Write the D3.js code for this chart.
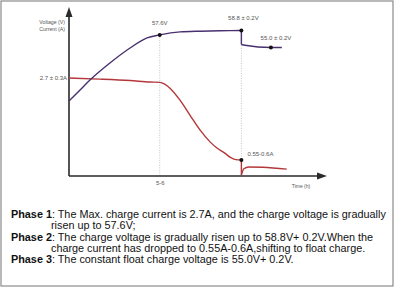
<!DOCTYPE html>
<html>
<head>
<meta charset="utf-8">
<script src="https://cdn.jsdelivr.net/npm/d3@7"></script>
<style>
  body { margin: 0; background: #fff; }
  svg { display: block; font-family: "Liberation Sans", Arial, sans-serif; }
</style>
</head>
<body>
<script>
// Charging curve, 3 phases
var width = 395;
var height = 288;

// time in hours, voltage in V, current in A (schematic)
var voltageTime = [0, 0.67, 1.27, 2.48, 3.7, 4.73, 5.5, 6.73, 7.94, 9.15, 10.45, 10.45, 10.67, 12.24, 12.9];
var voltage     = [39.7, 42.7, 45.4, 50.0, 54.05, 56.8, 57.6, 58.4, 58.6, 58.7, 58.8, 55.0, 54.8, 54.2, 54.2];

var currentTime = [0, 1.88, 3.7, 4.9, 5.5, 5.8, 6.12, 6.73, 7.33, 7.94, 8.55, 8.97, 9.45, 9.76, 10.12, 10.45, 10.45, 10.6, 10.9, 11.76, 13.2];
var current     = [2.7, 2.67, 2.63, 2.59, 2.58, 2.53, 2.42, 2.09, 1.68, 1.27, 0.94, 0.77, 0.63, 0.52, 0.45, 0.44, 0.03, 0.2, 0.25, 0.24, 0.19];

// marked points
var voltageDots = [{t: 5.5, v: 57.6, label: "57.6V"}, {t: 10.45, v: 58.8, label: "58.8 \u00b1 0.2V"}, {t: 12.24, v: 54.2, label: "55.0 \u00b1 0.2V"}];
var currentDots = [{t: 10.45, v: 0.44, label: "0.55-0.6A"}];

var xTicks = [5.5];
var xTickLabels = ["5-6"];
var yTicks = [2.7];
var yTickLabels = ["2.7 \u00b1 0.3A"];

var notes = [
  {bold: "Phase 1", text: ": The Max. charge current is 2.7A, and the charge voltage is gradually", indent: false},
  {bold: "", text: "risen up to 57.6V;", indent: true},
  {bold: "Phase 2", text: ": The charge voltage is gradually risen up to 58.8V+ 0.2V.When the", indent: false},
  {bold: "", text: "charge current has dropped to 0.55A-0.6A,shifting to float charge.", indent: true},
  {bold: "Phase 3", text: ": The constant float charge voltage is 55.0V+ 0.2V.", indent: false}
];

var origin = {x: 69, y: 176};

var svg = d3.select("body")
  .append("svg")
  .attr("width", width)
  .attr("height", height);

// frame
svg.append("rect")
  .attr("x", 1).attr("y", 1)
  .attr("width", width - 3).attr("height", height - 3)
  .attr("fill", "none")
  .attr("stroke", "#8a8a8a")
  .attr("stroke-width", 1.2);

// scales
var xScale = d3.scaleLinear()
  .domain([0, 15.64])
  .range([origin.x, 327]);

var vScale = d3.scaleLinear()
  .domain([40, 60])
  .range([100, 26]);

var iScale = d3.scaleLinear()
  .domain([0, 2.7])
  .range([origin.y, 78]);

// dotted guides
var guides = [5.5, 10.45];
svg.selectAll(".guide")
  .data(guides)
  .enter()
  .append("line")
    .attr("class", "guide")
    .attr("x1", function(d) { return xScale(d); })
    .attr("x2", function(d) { return xScale(d); })
    .attr("y1", function(d, i) { return vScale(voltageDots[i].v); })
    .attr("y2", origin.y)
    .attr("stroke", "#c4c4c4")
    .attr("stroke-width", 1)
    .attr("stroke-dasharray", "1,1.5");

// axes (ticks only carry the labels)
var xAxis = svg.append("g")
  .attr("transform", "translate(0," + origin.y + ")")
  .call(d3.axisBottom(xScale).tickValues(xTicks).tickSize(0).tickPadding(5)
    .tickFormat(function(d, i) { return xTickLabels[i]; }));

var yAxis = svg.append("g")
  .attr("transform", "translate(" + origin.x + ",0)")
  .call(d3.axisLeft(iScale).tickValues(yTicks).tickSize(0).tickPadding(2)
    .tickFormat(function(d, i) { return yTickLabels[i]; }));

svg.selectAll(".domain").remove();
svg.selectAll(".tick text")
  .attr("font-family", "Liberation Sans, Arial, sans-serif")
  .attr("font-size", 6)
  .attr("fill", "#555");

// axis lines with arrows
svg.append("path")
  .attr("d", "M" + origin.x + "," + origin.y + "H320 M" + origin.x + "," + origin.y + "V15")
  .attr("stroke", "#2b2b2b")
  .attr("stroke-width", 1.6)
  .attr("fill", "none");
svg.append("path")
  .attr("d", "M327," + origin.y + "L317," + (origin.y - 3.5) + "L317," + (origin.y + 3.5) + "Z")
  .attr("fill", "#2b2b2b");
svg.append("path")
  .attr("d", "M" + origin.x + ",7L" + (origin.x - 3.5) + ",17L" + (origin.x + 3.5) + ",17Z")
  .attr("fill", "#2b2b2b");

// axis titles
svg.append("text").attr("x", 65).attr("y", 23.5).attr("text-anchor", "end")
  .attr("font-size", 5.2).attr("fill", "#555").text("Voltage (V)");
svg.append("text").attr("x", 65).attr("y", 30.5).attr("text-anchor", "end")
  .attr("font-size", 5.2).attr("fill", "#555").text("Current (A)");
svg.append("text").attr("x", 301).attr("y", 187.5).attr("text-anchor", "middle")
  .attr("font-size", 5).attr("fill", "#555").text("Time (h)");

// split series into smooth pieces, with straight drops where the time repeats
function segments(times, values) {
  var segs = [], cur = [[times[0], values[0]]];
  for (var i = 1; i < times.length; i++) {
    if (times[i] === times[i - 1]) {
      segs.push({curve: true, pts: cur});
      segs.push({curve: false, pts: [[times[i - 1], values[i - 1]], [times[i], values[i]]]});
      cur = [[times[i], values[i]]];
    } else {
      cur.push([times[i], values[i]]);
    }
  }
  segs.push({curve: true, pts: cur});
  return segs;
}

function drawSeries(times, values, yScale, color) {
  var smooth = d3.line()
    .x(function(d) { return xScale(d[0]); })
    .y(function(d) { return yScale(d[1]); })
    .curve(d3.curveMonotoneX);
  var straight = d3.line()
    .x(function(d) { return xScale(d[0]); })
    .y(function(d) { return yScale(d[1]); });
  svg.append("g").selectAll("path")
    .data(segments(times, values))
    .enter()
    .append("path")
      .attr("d", function(s) { return s.curve ? smooth(s.pts) : straight(s.pts); })
      .attr("fill", "none")
      .attr("stroke", color)
      .attr("stroke-width", 1.4)
      .attr("stroke-linejoin", "round");
}

drawSeries(currentTime, current, iScale, "#b3373a");
drawSeries(voltageTime, voltage, vScale, "#48306f");

// dots and value labels
var vLabelPos = [{dx: 0, dy: -10, anchor: "middle"}, {dx: 2, dy: -10, anchor: "middle"}, {dx: 5, dy: -7.5, anchor: "middle"}];
svg.selectAll(".vdot")
  .data(voltageDots)
  .enter()
  .append("circle")
    .attr("cx", function(d) { return xScale(d.t); })
    .attr("cy", function(d) { return vScale(d.v); })
    .attr("r", 2)
    .attr("fill", "#111");
svg.selectAll(".vlab")
  .data(voltageDots)
  .enter()
  .append("text")
    .attr("x", function(d, i) { return xScale(d.t) + vLabelPos[i].dx; })
    .attr("y", function(d, i) { return vScale(d.v) + vLabelPos[i].dy; })
    .attr("text-anchor", function(d, i) { return vLabelPos[i].anchor; })
    .attr("font-size", 6)
    .attr("fill", "#555")
    .text(function(d) { return d.label; });

svg.selectAll(".idot")
  .data(currentDots)
  .enter()
  .append("circle")
    .attr("cx", function(d) { return xScale(d.t); })
    .attr("cy", function(d) { return iScale(d.v); })
    .attr("r", 2)
    .attr("fill", "#111");
svg.selectAll(".ilab")
  .data(currentDots)
  .enter()
  .append("text")
    .attr("x", function(d) { return xScale(d.t) + 6; })
    .attr("y", function(d) { return iScale(d.v) - 4; })
    .attr("font-size", 6)
    .attr("fill", "#555")
    .text(function(d) { return d.label; });

// notes below the chart
var noteY = [218, 229.3, 240.6, 251.9, 263.2];
var notesG = svg.append("g");
var lines = notesG.selectAll("text")
  .data(notes)
  .enter()
  .append("text")
    .attr("x", function(d) { return d.indent ? 51 : 11; })
    .attr("y", function(d, i) { return noteY[i]; })
    .attr("font-size", 10)
    .attr("fill", "#111");
lines.append("tspan").attr("font-weight", "bold").text(function(d) { return d.bold; });
lines.append("tspan").text(function(d) { return d.text; });

// fit first line to its width in the picture
var w0 = lines.node().getComputedTextLength();
var fs = 10 * 375 / w0;
lines.attr("font-size", fs);
</script>
</body>
</html>
